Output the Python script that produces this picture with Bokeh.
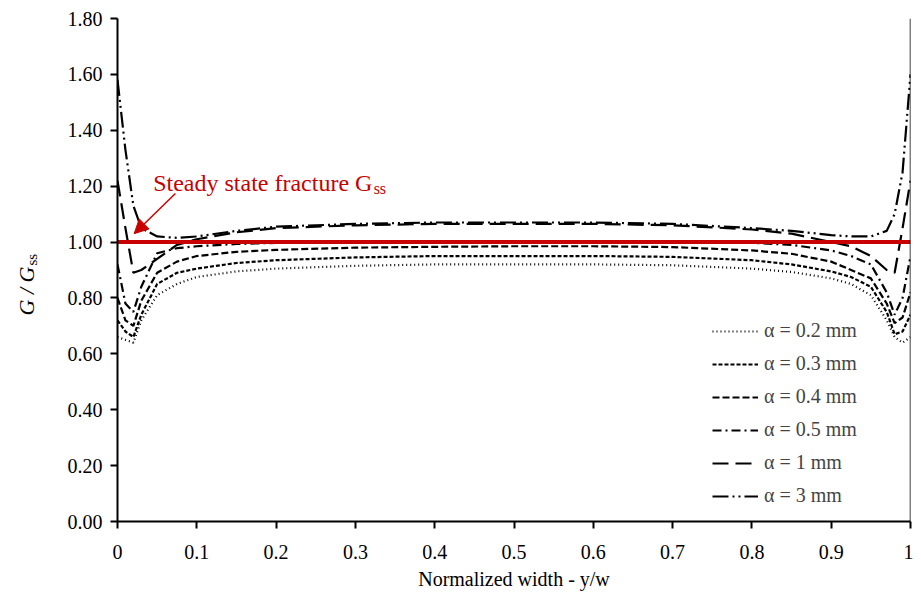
import math
from bokeh.plotting import figure
from bokeh.layouts import row
from bokeh.models import (FixedTicker, Label, Arrow, NormalHead, Span, Legend, LegendItem, Range1d)
from bokeh.embed import file_html
from bokeh.resources import INLINE

# ---------------- data ----------------
x_pos = [0, 0.01, 0.02, 0.03, 0.05, 0.075, 0.1, 0.15, 0.2, 0.3, 0.4, 0.5,
         0.6, 0.7, 0.8, 0.85, 0.9, 0.925, 0.95, 0.97, 0.98, 0.99, 1.0]

g_02 = [0.66, 0.65, 0.64, 0.72, 0.81, 0.85, 0.875, 0.895, 0.905, 0.915, 0.92, 0.92,
        0.92, 0.917, 0.905, 0.893, 0.87, 0.85, 0.81, 0.72, 0.66, 0.64, 0.66]
g_03 = [0.72, 0.68, 0.66, 0.74, 0.85, 0.89, 0.905, 0.925, 0.935, 0.945, 0.95, 0.95,
        0.95, 0.947, 0.935, 0.92, 0.895, 0.875, 0.84, 0.75, 0.67, 0.68, 0.74]
g_04 = [0.80, 0.72, 0.70, 0.79, 0.89, 0.93, 0.95, 0.965, 0.972, 0.98, 0.983, 0.985,
        0.985, 0.982, 0.97, 0.958, 0.93, 0.90, 0.87, 0.78, 0.71, 0.73, 0.82]
g_05 = [0.92, 0.78, 0.75, 0.84, 0.96, 0.978, 0.985, 0.993, 0.997, 1.0, 1.003, 1.003,
        1.003, 1.0, 0.997, 0.99, 0.97, 0.95, 0.92, 0.82, 0.74, 0.80, 0.95]
g_1 = [1.22, 1.05, 0.89, 0.90, 0.94, 0.99, 1.01, 1.035, 1.05, 1.06, 1.065, 1.065,
       1.065, 1.06, 1.045, 1.03, 1.0, 0.985, 0.95, 0.90, 0.89, 1.05, 1.22]
g_3 = [1.58, 1.33, 1.13, 1.05, 1.02, 1.015, 1.02, 1.04, 1.055, 1.065, 1.07, 1.07,
       1.07, 1.065, 1.05, 1.04, 1.025, 1.02, 1.02, 1.04, 1.10, 1.25, 1.60]

series_labels = ["α = 0.2 mm", "α = 0.3 mm", "α = 0.4 mm",
                 "α = 0.5 mm", "α = 1 mm", "α = 3 mm"]
series_values = [g_02, g_03, g_04, g_05, g_1, g_3]
series_dash = ["1 3", "4 2", "7 3", "9 4 2 4", "16 7", "16 4 2 4 2 4"]

g_ss = 1.0

x_ticks = [0, 0.1, 0.2, 0.3, 0.4, 0.5, 0.6, 0.7, 0.8, 0.9, 1.0]
x_tick_labels = ["0", "0.1", "0.2", "0.3", "0.4", "0.5", "0.6", "0.7", "0.8", "0.9", "1"]
y_ticks = [0, 0.2, 0.4, 0.6, 0.8, 1.0, 1.2, 1.4, 1.6, 1.8]
y_tick_labels = ["0.00", "0.20", "0.40", "0.60", "0.80", "1.00", "1.20", "1.40", "1.60", "1.80"]

FONT = "Liberation Serif"
RED = "#C80000"
LAB_W = 50
H = 592

# ---------------- narrow strip holding the rotated y-axis title ----------------
lab = figure(width=LAB_W, height=H, output_backend="svg", toolbar_location=None,
             x_range=Range1d(0, LAB_W), y_range=Range1d(0, H),
             frame_width=LAB_W, frame_height=H, min_border=0,
             x_axis_type=None, y_axis_type=None)
lab.outline_line_color = None
lab.grid.visible = False
lab.background_fill_color = "white"
lab.border_fill_color = "white"
lab.add_layout(Label(x=26, y=295, text="G / G", angle=math.pi / 2,
                     text_font=FONT, text_font_size="22px", text_font_style="italic",
                     text_color="black", text_baseline="alphabetic"))
lab.add_layout(Label(x=31, y=345, text="ss", angle=math.pi / 2,
                     text_font=FONT, text_font_size="15px",
                     text_color="black", text_baseline="alphabetic"))

# ---------------- main figure ----------------
p = figure(width=913 - LAB_W, height=H, output_backend="svg", toolbar_location=None,
           x_range=(0, 1), y_range=(0, 1.8),
           frame_width=793, frame_height=503,
           min_border_left=117 - LAB_W, min_border_right=3, min_border_top=18, min_border_bottom=71)
p.background_fill_color = "white"
p.border_fill_color = "white"
p.outline_line_color = None
p.grid.visible = False

for ax in (p.xaxis[0], p.yaxis[0]):
    ax.axis_line_width = 2
    ax.axis_line_color = "black"
    ax.major_tick_line_width = 2
    ax.major_tick_line_color = "black"
    ax.minor_tick_line_color = None
    ax.major_label_text_font = FONT
    ax.major_label_text_font_size = "20px"
    ax.major_label_text_color = "black"
    ax.axis_label_text_font = FONT
    ax.axis_label_text_font_style = "normal"
    ax.axis_label_text_color = "black"

p.xaxis.ticker = FixedTicker(ticks=x_ticks)
p.xaxis.major_label_overrides = {t: l for t, l in zip(x_ticks, x_tick_labels)}
p.xaxis.major_tick_out = 7
p.xaxis.major_tick_in = 0
p.xaxis.major_label_standoff = 16
p.xaxis.axis_label = "Normalized width - y/w"
p.xaxis.axis_label_text_font_size = "20px"
p.xaxis.axis_label_standoff = 6

p.yaxis.ticker = FixedTicker(ticks=y_ticks)
p.yaxis.major_label_overrides = {t: l for t, l in zip(y_ticks, y_tick_labels)}
p.yaxis.major_tick_out = 7
p.yaxis.major_tick_in = 0
p.yaxis.major_label_standoff = 8

# right border line
p.add_layout(Span(location=1.0, dimension="height", line_color="black", line_width=1.5))

# series
items = []
for lab_txt, vals, dash in zip(series_labels, series_values, series_dash):
    r = p.line(x_pos, vals, line_color="black", line_width=2.2, line_dash=dash)
    items.append(LegendItem(label=lab_txt, renderers=[r]))

# steady state line
p.line([0, 1], [g_ss, g_ss], line_color=RED, line_width=4)

legend = Legend(items=items, location=(595, 14), orientation="vertical",
                border_line_color=None, background_fill_alpha=0,
                label_text_font=FONT, label_text_font_size="20px",
                glyph_width=46, glyph_height=20, label_height=20,
                spacing=10, padding=0, margin=0, label_standoff=6)
p.add_layout(legend)

# annotation
p.add_layout(Label(x=0.045, y=1.21, text="Steady state fracture G",
                   text_font=FONT, text_font_size="24px", text_color=RED,
                   text_baseline="alphabetic"))
p.add_layout(Label(x=0.323, y=1.192, text="ss",
                   text_font=FONT, text_font_size="16px", text_color=RED,
                   text_baseline="alphabetic"))
p.add_layout(Arrow(x_start=0.073, y_start=1.174, x_end=0.021, y_end=1.03,
                   line_color=RED, line_width=1.5,
                   end=NormalHead(size=14, fill_color=RED, line_color=RED)))

layout = row(lab, p, spacing=0)
open("out.html", "w").write(file_html(layout, INLINE))
